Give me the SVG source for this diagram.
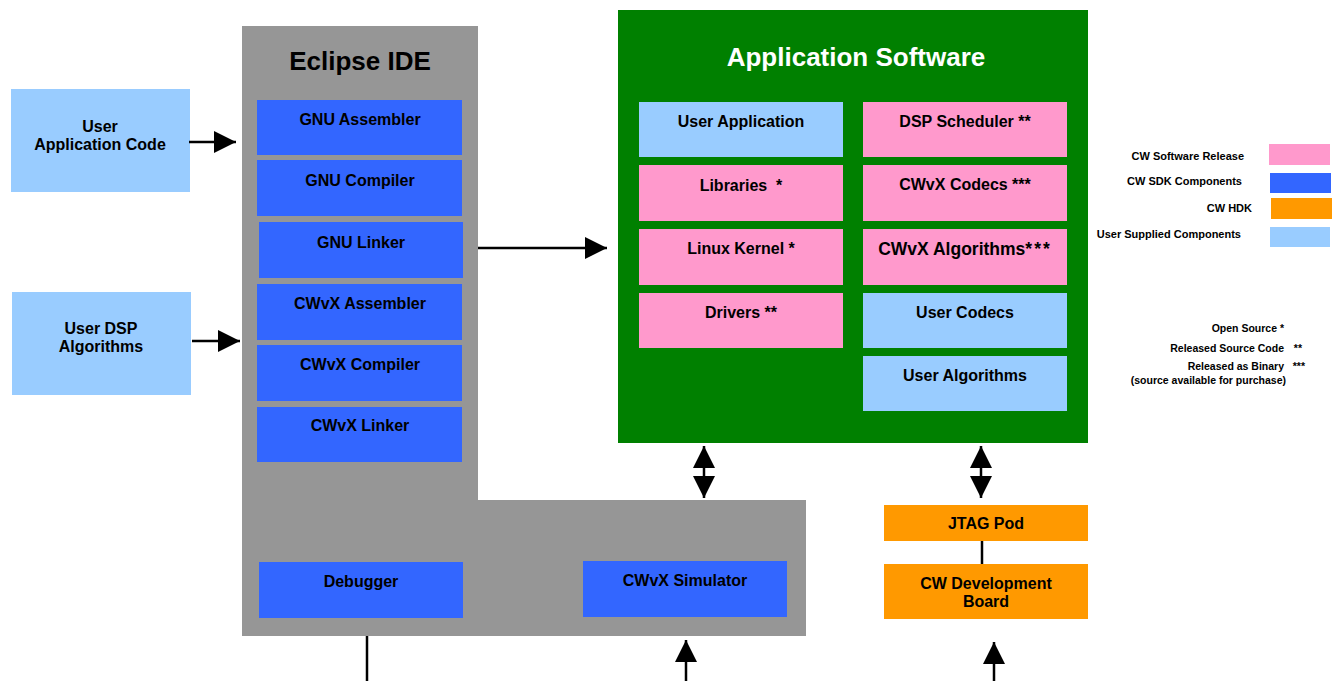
<svg xmlns="http://www.w3.org/2000/svg" width="1337" height="681" viewBox="0 0 1337 681">
<style>
text{font-family:"Liberation Sans",Arial,sans-serif;font-weight:bold;fill:#000}
.t{font-size:16px;text-anchor:middle}
.title{font-size:26px;text-anchor:middle}
.lg{font-size:11px;text-anchor:end}
.nt{font-size:10.5px;text-anchor:end}
.sdk{fill:#3366FF}
.rel{fill:#FF99CC}
.usr{fill:#99CCFF}
.hdk{fill:#FF9900}
.ln{stroke:#000;stroke-width:2.5;fill:none}
</style>
<defs>
<marker id="ah" viewBox="0 0 22 22" refX="22" refY="11" markerWidth="22" markerHeight="22" markerUnits="userSpaceOnUse" orient="auto-start-reverse">
<path d="M0,0 L22,11 L0,22 Z" fill="#000"/>
</marker>
</defs>

<g id="eclipse">
<path d="M242,26 H478 V500 H806 V636 H242 Z" fill="#969696"/>
<text class="title" x="360" y="70">Eclipse IDE</text>
</g>
<g id="gnu-assembler"><rect class="sdk" x="257" y="100" width="205" height="55"/><text class="t" x="360" y="125">GNU Assembler</text></g>
<g id="gnu-compiler"><rect class="sdk" x="257" y="160" width="205" height="56"/><text class="t" x="360" y="186">GNU Compiler</text></g>
<g id="gnu-linker"><rect class="sdk" x="259" y="222" width="204" height="56"/><text class="t" x="361" y="248">GNU Linker</text></g>
<g id="cwvx-assembler"><rect class="sdk" x="257" y="284" width="205" height="56"/><text class="t" x="360" y="309">CWvX Assembler</text></g>
<g id="cwvx-compiler"><rect class="sdk" x="257" y="345" width="205" height="56"/><text class="t" x="360" y="370">CWvX Compiler</text></g>
<g id="cwvx-linker"><rect class="sdk" x="257" y="407" width="205" height="55"/><text class="t" x="360" y="431">CWvX Linker</text></g>
<g id="debugger"><rect class="sdk" x="259" y="562" width="204" height="56"/><text class="t" x="361" y="587">Debugger</text></g>
<g id="cwvx-simulator"><rect class="sdk" x="583" y="561" width="204" height="56"/><text class="t" x="685" y="586">CWvX Simulator</text></g>

<g id="user-app-code"><rect class="usr" x="11" y="89" width="179" height="103"/><text class="t" x="100" y="132">User</text><text class="t" x="100" y="150">Application Code</text></g>
<g id="user-dsp"><rect class="usr" x="12" y="292" width="179" height="103"/><text class="t" x="101" y="334">User DSP</text><text class="t" x="101" y="352">Algorithms</text></g>

<g id="app-software">
<rect x="618" y="10" width="470" height="433" fill="#008000"/>
<text class="title" x="856" y="66" style="fill:#fff">Application Software</text>
</g>
<g id="user-application"><rect class="usr" x="639" y="102" width="204" height="55"/><text class="t" x="741" y="127">User Application</text></g>
<g id="dsp-scheduler"><rect class="rel" x="863" y="102" width="204" height="55"/><text class="t" x="965" y="127">DSP Scheduler **</text></g>
<g id="libraries"><rect class="rel" x="639" y="165" width="204" height="56"/><text class="t" x="741" y="191" xml:space="preserve">Libraries  *</text></g>
<g id="cwvx-codecs"><rect class="rel" x="863" y="165" width="204" height="56"/><text class="t" x="965" y="190">CWvX Codecs ***</text></g>
<g id="linux-kernel"><rect class="rel" x="639" y="229" width="204" height="56"/><text class="t" x="741" y="254">Linux Kernel *</text></g>
<g id="cwvx-algorithms"><rect class="rel" x="863" y="229" width="204" height="56"/><text class="t" x="965" y="255" style="font-size:17.5px">CWvX Algorithms<tspan letter-spacing="2">***</tspan></text></g>
<g id="drivers"><rect class="rel" x="639" y="293" width="204" height="55"/><text class="t" x="741" y="318">Drivers **</text></g>
<g id="user-codecs"><rect class="usr" x="863" y="293" width="204" height="55"/><text class="t" x="965" y="318">User Codecs</text></g>
<g id="user-algorithms"><rect class="usr" x="863" y="356" width="204" height="55"/><text class="t" x="965" y="381">User Algorithms</text></g>

<g id="jtag-pod"><rect class="hdk" x="884" y="505" width="204" height="36"/><text class="t" x="986" y="529">JTAG Pod</text></g>
<g id="cw-board"><rect class="hdk" x="884" y="564" width="204" height="55"/><text class="t" x="986" y="589">CW Development</text><text class="t" x="986" y="607">Board</text></g>

<g id="connectors">
<line class="ln" x1="189" y1="142" x2="236" y2="142" marker-end="url(#ah)"/>
<line class="ln" x1="192" y1="341" x2="240" y2="341" marker-end="url(#ah)"/>
<line class="ln" x1="478" y1="248" x2="607" y2="248" marker-end="url(#ah)"/>
<line class="ln" x1="704" y1="446" x2="704" y2="498" marker-start="url(#ah)" marker-end="url(#ah)"/>
<line class="ln" x1="981" y1="446" x2="981" y2="498" marker-start="url(#ah)" marker-end="url(#ah)"/>
<line class="ln" x1="982" y1="541" x2="982" y2="564"/>
<line class="ln" x1="367" y1="636" x2="367" y2="681"/>
<line class="ln" x1="686" y1="681" x2="686" y2="640" marker-end="url(#ah)"/>
<line class="ln" x1="994" y1="681" x2="994" y2="642" marker-end="url(#ah)"/>
</g>

<g id="legend">
<text class="lg" x="1244" y="160">CW Software Release</text><rect class="rel" x="1269" y="144" width="61" height="21"/>
<text class="lg" x="1242" y="185">CW SDK Components</text><rect class="sdk" x="1270" y="173" width="61" height="20"/>
<text class="lg" x="1252" y="212">CW HDK</text><rect class="hdk" x="1271" y="198" width="61" height="21"/>
<text class="lg" x="1241" y="238">User Supplied Components</text><rect class="usr" x="1270" y="227" width="60" height="20"/>
</g>
<g id="notes">
<text class="nt" x="1284" y="332">Open Source *</text>
<text class="nt" x="1284" y="352">Released Source Code</text><text class="nt" x="1302" y="352">**</text>
<text class="nt" x="1284" y="370">Released as Binary</text><text class="nt" x="1305" y="370">***</text>
<text class="nt" x="1286" y="384">(source available for purchase)</text>
</g>
</svg>
